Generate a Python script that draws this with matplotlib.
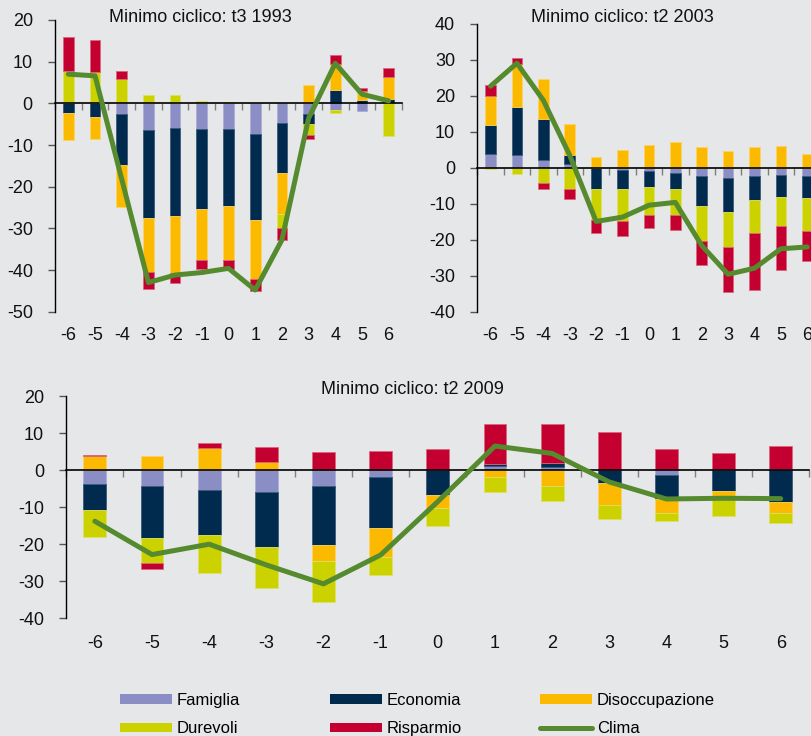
import numpy as np
import matplotlib
matplotlib.use("Agg")
import matplotlib.pyplot as plt
from matplotlib.patches import Patch
from matplotlib.lines import Line2D

plt.rcParams['font.family'] = ['Liberation Sans', 'DejaVu Sans']

# ---------------- data ----------------
periods = [-6, -5, -4, -3, -2, -1, 0, 1, 2, 3, 4, 5, 6]
period_labels = [str(p) for p in periods]
series_names = ["Famiglia", "Economia", "Disoccupazione", "Durevoli", "Risparmio"]
clima_name = "Clima"

# Minimo ciclico: t3 1993
fam_1993 = [0, 0, -2.6, -6.4, -5.8, -6.2, -6.2, -7.3, -4.7, -2.6, -1.6, -1.8, 0]
eco_1993 = [-2.2, -3.2, -12.3, -21.0, -21.2, -19.2, -18.4, -20.7, -11.9, -2.4, 3.3, 0.7, 1.0]
dis_1993 = [-6.6, -5.4, -9.9, -13.0, -13.8, -12.1, -12.9, -14.1, -10.0, 4.4, 6.1, 1.5, 5.3]
dur_1993 = [7.7, 7.5, 5.9, 1.9, 1.9, 0.6, 0.4, 0.2, -3.4, -2.6, -0.7, 0.8, -7.8]
ris_1993 = [8.2, 7.6, 1.8, -4.2, -2.2, -2.3, -2.3, -2.9, -2.7, -1.0, 2.2, 0.7, 2.1]
cli_1993 = [7.0, 6.6, -18.2, -43.0, -41.2, -40.6, -39.6, -44.8, -32.8, -3.6, 9.6, 2.2, 0.6]

# Minimo ciclico: t2 2003
fam_2003 = [3.9, 3.5, 2.3, 1.2, 0, -0.7, -0.9, -1.3, -2.3, -2.8, -2.4, -2.1, -2.3]
eco_2003 = [7.9, 13.5, 11.3, 2.3, -5.9, -5.3, -4.5, -4.6, -8.4, -9.6, -6.6, -5.9, -6.2]
dis_2003 = [8.1, 11.8, 11.0, 8.7, 3.0, 5.1, 6.3, 7.2, 5.9, 4.8, 5.9, 6.0, 3.8]
dur_2003 = [-0.3, -1.6, -4.3, -6.0, -8.7, -8.8, -7.8, -7.1, -9.7, -9.7, -9.2, -8.1, -9.0]
ris_2003 = [3.0, 1.8, -1.7, -2.8, -3.5, -4.2, -3.6, -4.2, -6.5, -12.4, -15.8, -12.4, -8.3]
cli_2003 = [22.7, 29.1, 18.8, 3.5, -14.9, -13.7, -10.4, -9.6, -21.6, -29.6, -27.9, -22.5, -22.0]

# Minimo ciclico: t2 2009
fam_2009 = [-3.8, -4.3, -5.3, -5.9, -4.2, -1.8, 0, 1.1, 0.8, 0, -1.2, 0, 0.4]
eco_2009 = [-7.0, -14.0, -12.2, -14.9, -16.0, -13.8, -6.8, 0.5, 1.2, -3.6, -6.7, -5.6, -8.5]
dis_2009 = [3.8, 3.7, 5.9, 2.3, -4.2, -7.8, -3.4, -1.8, -4.2, -5.9, -3.8, -1.4, -3.2]
dur_2009 = [-7.2, -6.9, -10.2, -11.0, -11.1, -4.9, -4.8, -4.1, -4.1, -3.8, -2.1, -5.4, -2.7]
ris_2009 = [0.2, -1.5, 1.5, 4.0, 4.8, 5.1, 5.8, 10.8, 10.4, 10.3, 5.8, 4.6, 6.1]
cli_2009 = [-13.8, -22.8, -20.0, -25.6, -30.7, -22.9, -8.5, 6.5, 4.5, -3.2, -7.8, -7.6, -7.7]

titles = ["Minimo ciclico: t3 1993", "Minimo ciclico: t2 2003", "Minimo ciclico: t2 2009"]

# ---------------- style ----------------
BG = "#E6E7E9"
colors = ["#8A8EC4", "#002A4E", "#FBBA00", "#CCD100", "#C3002F"]
edge_colors = ["#A9ACD6", "#3A5A7A", "#FDD366", "#DDE066", "#D9667F"]
GREEN = "#568A2E"
FS = 13

W, H = 811, 736
fig = plt.figure(figsize=(W / 100, H / 100), dpi=100, facecolor=BG)


def px_axes(left, top, right, bottom):
    return fig.add_axes([left / W, 1 - bottom / H, (right - left) / W, (bottom - top) / H])


def draw(ax, values, clima, ylim, yticks, xpad):
    ax.set_facecolor(BG)
    x = np.arange(len(periods))
    pos = np.zeros(len(periods))
    neg = np.zeros(len(periods))
    for vals, c, ec in zip(values, colors, edge_colors):
        v = np.array(vals, dtype=float)
        bottom = np.where(v >= 0, pos, neg)
        ax.bar(x, v, width=0.4, bottom=bottom, color=c, edgecolor=ec, linewidth=0.6, zorder=2)
        pos += np.where(v > 0, v, 0)
        neg += np.where(v < 0, v, 0)
    ax.plot(x, clima, color=GREEN, lw=3.6, solid_capstyle='round', solid_joinstyle='round', zorder=4)
    ax.set_xlim(-0.5, len(periods) - 0.5)
    ax.set_ylim(*ylim)
    ax.set_yticks(yticks)
    ax.set_yticklabels([str(t) for t in yticks])
    for s in ["top", "right"]:
        ax.spines[s].set_visible(False)
    ax.spines["left"].set_color("black")
    ax.spines["left"].set_linewidth(1.0)
    ax.spines["bottom"].set_position(("data", 0))
    ax.spines["bottom"].set_color("black")
    ax.spines["bottom"].set_linewidth(1.2)
    ax.spines["bottom"].set_zorder(3)
    ax.set_xticks(np.arange(len(periods) + 1) - 0.5)
    ax.set_xticklabels([])
    ax.tick_params(axis="x", direction="out", length=5, width=1, color="#7F7F7F")
    ax.tick_params(axis="y", direction="out", length=5, width=1, color="#555555",
                   labelsize=FS, pad=11, labelcolor="#111111")
    sec = ax.secondary_xaxis(0)
    sec.set_xticks(x)
    sec.set_xticklabels(period_labels)
    sec.tick_params(length=0, labelsize=FS, pad=xpad, labelcolor="#111111")
    sec.spines["bottom"].set_visible(False)


ax1 = px_axes(55, 20, 402, 311.7)
draw(ax1, [fam_1993, eco_1993, dis_1993, dur_1993, ris_1993], cli_1993, (-50, 20),
     [20, 10, 0, -10, -20, -30, -40, -50], 11)

ax2 = px_axes(477.3, 24, 477.3 + 13 * 26.4, 311.7)
draw(ax2, [fam_2003, eco_2003, dis_2003, dur_2003, ris_2003], cli_2003, (-40, 40),
     [40, 30, 20, 10, 0, -10, -20, -30, -40], 11)

ax3 = px_axes(66.3, 396, 809.3, 618.3)
draw(ax3, [fam_2009, eco_2009, dis_2009, dur_2009, ris_2009], cli_2009, (-40, 20),
     [20, 10, 0, -10, -20, -30, -40], 12)

fig.text(200 / W, 1 - 17 / H, titles[0], ha="center", va="center", fontsize=FS, color="#111111")
fig.text(622.7 / W, 1 - 17 / H, titles[1], ha="center", va="center", fontsize=FS, color="#111111")
fig.text(412.5 / W, 1 - 389.5 / H, titles[2], ha="center", va="center", fontsize=FS, color="#111111")

# ---------------- legend ----------------
handles = [Patch(facecolor=c, edgecolor="none") for c in colors]
handles.append(Line2D([0], [0], color=GREEN, lw=3.6, solid_capstyle="round"))
names = series_names + [clima_name]
cols = [(0, 3), (1, 4), (2, 5)]
col_x = [120, 330, 540]
for (i, j), cx in zip(cols, col_x):
    fig.legend([handles[i], handles[j]], [names[i], names[j]], loc="upper left",
               bbox_to_anchor=(cx / W, 1 - 693 / H), frameon=False, fontsize=12,
               borderpad=0, borderaxespad=0, handlelength=3.1, handleheight=0.5,
               handletextpad=0.3, labelspacing=0.8)

fig.savefig("out.png", dpi=100, facecolor=BG)
